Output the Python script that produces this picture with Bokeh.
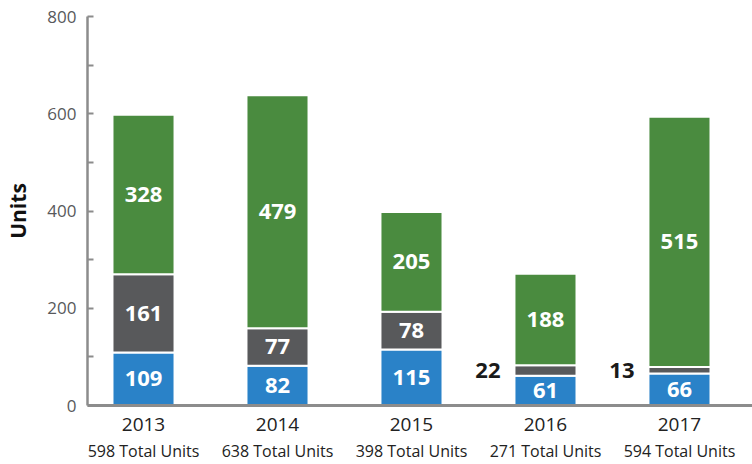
from bokeh.plotting import figure
from bokeh.models import Range1d, LinearAxis, FixedTicker
from bokeh.core.properties import value
from bokeh.embed import file_html
from bokeh.resources import INLINE

years = ["2013", "2014", "2015", "2016", "2017"]
blue_vals = [109, 82, 115, 61, 66]
gray_vals = [161, 77, 78, 22, 13]
green_vals = [328, 479, 205, 188, 515]
totals = [598, 638, 398, 271, 594]
total_labels = ["598 Total Units", "638 Total Units", "398 Total Units", "271 Total Units", "594 Total Units"]
y_ticks = [0, 200, 400, 600, 800]

BLUE = "#2a82c8"
GRAY = "#58595b"
GREEN = "#4a8b3f"
FONT = "Open Sans"
W = 0.463

xs = list(range(len(years)))

p = figure(width=752, height=464, output_backend="svg", toolbar_location=None,
           x_range=Range1d(-0.418, 4.545), y_range=Range1d(0, 800),
           min_border_left=87, min_border_right=0, min_border_top=16, min_border_bottom=0)
p.xaxis.visible = False
p.grid.visible = False
p.outline_line_color = None
p.background_fill_color = "white"
p.border_fill_color = "white"

ya = p.yaxis[0]
ya.ticker = FixedTicker(ticks=y_ticks, minor_ticks=[100, 300, 500, 700])
ya.axis_line_color = "#8c8c8c"
ya.axis_line_width = 2.5
ya.major_tick_line_color = "#8c8c8c"
ya.major_tick_line_width = 2
ya.major_tick_in = 6
ya.major_tick_out = 0
ya.minor_tick_line_color = "#8c8c8c"
ya.minor_tick_line_width = 2
ya.minor_tick_in = 6
ya.minor_tick_out = 0
ya.major_label_text_font = FONT
ya.major_label_text_font_size = "17px"
ya.major_label_text_color = "#58595b"
ya.major_label_standoff = 11
ya.axis_label = "Units"
ya.axis_label_text_font = FONT
ya.axis_label_text_font_style = "bold"
ya.axis_label_text_font_size = "21px"
ya.axis_label_text_color = "#111111"
ya.axis_label_standoff = 12

xa = LinearAxis(ticker=FixedTicker(ticks=xs, minor_ticks=[]),
                major_label_overrides={i: y for i, y in zip(xs, years)})
xa.axis_line_color = "#8c8c8c"
xa.axis_line_width = 3
xa.major_tick_line_color = None
xa.minor_tick_line_color = None
xa.major_label_text_font = FONT
xa.major_label_text_font_size = "19px"
xa.major_label_text_color = "#222222"
xa.major_label_standoff = 6
p.add_layout(xa, "below")

ta = LinearAxis(ticker=FixedTicker(ticks=xs, minor_ticks=[]),
                major_label_overrides={i: t for i, t in zip(xs, total_labels)})
ta.axis_line_color = None
ta.major_tick_line_color = None
ta.minor_tick_line_color = None
ta.major_label_text_font = FONT
ta.major_label_text_font_size = "16px"
ta.major_label_text_color = "#222222"
ta.major_label_standoff = 0
p.add_layout(ta, "below")

b1 = [0] * len(xs)
t1 = blue_vals
b2 = t1
t2 = [a + b for a, b in zip(blue_vals, gray_vals)]
b3 = t2
t3 = [a + b for a, b in zip(t2, green_vals)]

for bot, top, col in [(b1, t1, BLUE), (b2, t2, GRAY), (b3, t3, GREEN)]:
    p.vbar(x=xs, width=W, bottom=bot, top=top, fill_color=col,
           line_color="white", line_width=2)

in_x, in_y, in_t = [], [], []
out_x, out_y, out_t = [], [], []
for vals, bots in [(blue_vals, b1), (gray_vals, b2), (green_vals, b3)]:
    for i, (v, b) in enumerate(zip(vals, bots)):
        if v >= 30:
            in_x.append(i); in_y.append(b + v / 2); in_t.append(str(v))
        else:
            out_x.append(i - W / 2); out_y.append(b + v / 2); out_t.append(str(v))

p.text(x=in_x, y=in_y, text=in_t, text_color="white", text_font=value(FONT),
       text_font_style="bold", text_font_size="22px", text_align="center",
       text_baseline="middle")
p.text(x=out_x, y=out_y, text=out_t, text_color="#1a1a1a", text_font=value(FONT),
       text_font_style="bold", text_font_size="22px", text_align="right",
       text_baseline="middle", x_offset=-14)

open("out.html", "w").write(file_html(p, INLINE))
